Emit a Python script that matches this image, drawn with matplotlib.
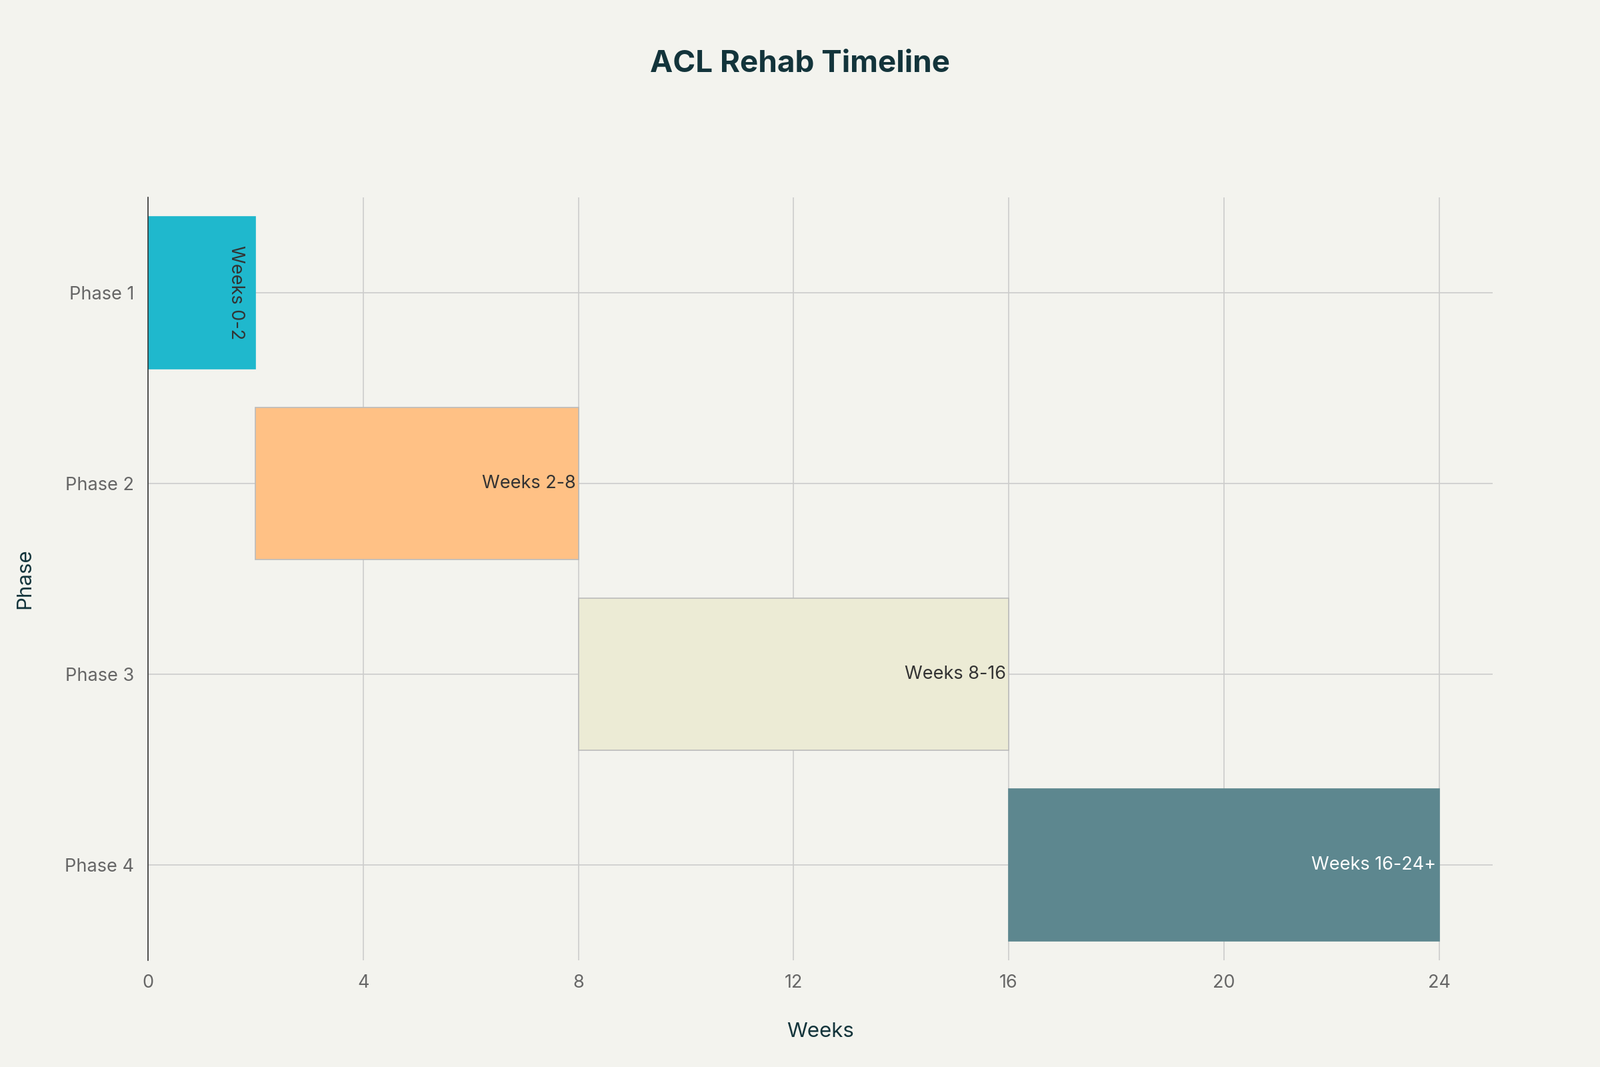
import matplotlib
matplotlib.use("Agg")
import matplotlib.pyplot as plt

phases = ["Phase 1", "Phase 2", "Phase 3", "Phase 4"]
starts = [0, 2, 8, 16]
ends = [2, 8, 16, 24]
labels = ["Weeks 0-2", "Weeks 2-8", "Weeks 8-16", "Weeks 16-24+"]
colors = ["#1FB8CD", "#FFC185", "#ECEBD5", "#5D878F"]
text_colors = ["#333333", "#333333", "#333333", "#FFFFFF"]

plt.rcParams["font.family"] = "Inter"
bg = "#F3F3EE"
fig = plt.figure(figsize=(16, 10.667), dpi=150, facecolor=bg)
ax = fig.add_axes([0.0925, 0.10, 0.8405, 0.715], facecolor=bg)

ypos = list(range(len(phases)))
for i, (s, e) in enumerate(zip(starts, ends)):
    ax.barh(i, e - s, left=s, height=0.8, color=colors[i],
            edgecolor="#BBBBBB" if i in (1, 2) else colors[i], linewidth=0.8, zorder=3)
    if e - s <= 2:
        ax.text(e - 0.15, i, labels[i], rotation=-90, ha="center", va="top",
                fontsize=13, color=text_colors[i], zorder=4,
                transform=ax.transData, rotation_mode="anchor") if False else \
        ax.text(e - 0.2, i, labels[i], rotation=-90, ha="right", va="center",
                fontsize=13, color=text_colors[i], zorder=4)
    else:
        ax.text(e - 0.05, i, labels[i], ha="right", va="center",
                fontsize=13, color=text_colors[i], zorder=4)

ax.set_yticks(ypos)
ax.set_yticklabels(phases)
ax.set_ylim(len(phases) - 0.5, -0.5)
ax.set_xlim(0, 25)
ax.set_xticks([0, 4, 8, 12, 16, 20, 24])
ax.grid(True, color="#CCCCCC", linewidth=0.8, zorder=0)
for sp in ["top", "right", "bottom"]:
    ax.spines[sp].set_visible(False)
ax.spines["left"].set_color("#333333")
ax.spines["left"].set_zorder(5)
ax.tick_params(length=0, labelsize=13, labelcolor="#666666", pad=10)
ax.set_xlabel("Weeks", fontsize=15, color="#13343B", labelpad=22)
ax.set_ylabel("Phase", fontsize=15, color="#13343B", labelpad=22)
fig.text(0.5, 0.94, "ACL Rehab Timeline", ha="center", va="center",
         fontsize=22, fontweight="bold", color="#13343B")
fig.savefig("out.png", facecolor=bg)
